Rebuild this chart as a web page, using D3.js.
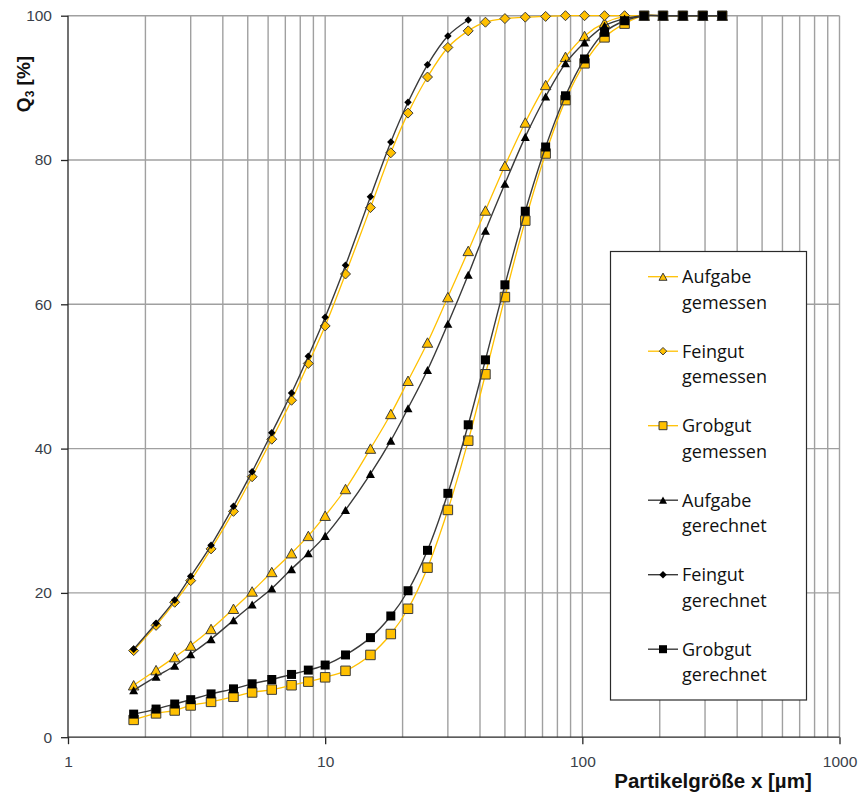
<!DOCTYPE html>
<html>
<head>
<meta charset="utf-8">
<script src="https://cdn.jsdelivr.net/npm/d3@7"></script>
<style>
  html, body { margin: 0; padding: 0; background: #fff; }
  svg { display: block; }
</style>
</head>
<body>
<svg id="chart" width="863" height="793"></svg>
<script>
// ---------- data ----------
const sizes = [1.8, 2.2, 2.6, 3.0, 3.6, 4.4, 5.2, 6.2, 7.4, 8.6, 10, 12, 15, 18, 21, 25, 30, 36, 42, 50, 60, 72, 86, 102, 122, 146, 174, 206, 246, 294, 350];

const aufgabeGemessen = [7.2, 9.3, 11.1, 12.7, 15.0, 17.8, 20.2, 22.9, 25.5, 27.9, 30.7, 34.4, 40.0, 44.8, 49.4, 54.7, 61.0, 67.4, 73.0, 79.2, 85.2, 90.4, 94.3, 97.2, 99.0, 99.9, 100, 100, 100, 100, 100];
const feingutGemessen = [12.0, 15.5, 18.7, 21.7, 26.1, 31.3, 36.1, 41.3, 46.7, 51.8, 57.0, 64.2, 73.4, 81.0, 86.5, 91.5, 95.6, 97.9, 99.1, 99.6, 99.8, 99.9, 100, 100, 100, 100];
const grobgutGemessen = [2.4, 3.3, 3.7, 4.4, 4.9, 5.6, 6.2, 6.6, 7.2, 7.7, 8.3, 9.2, 11.4, 14.3, 17.8, 23.5, 31.5, 41.1, 50.3, 61.0, 71.6, 80.9, 88.3, 93.4, 97.0, 98.9, 100, 100, 100, 100, 100];
const aufgabeGerechnet = [6.5, 8.4, 9.9, 11.5, 13.6, 16.2, 18.4, 20.6, 23.3, 25.5, 27.9, 31.5, 36.5, 41.1, 45.6, 50.9, 57.3, 64.1, 70.2, 76.7, 83.2, 88.8, 93.4, 96.3, 98.6, 99.6, 100, 100, 100, 100, 100];
const feingutGerechnet = [12.2, 15.8, 19.0, 22.3, 26.6, 32.0, 36.8, 42.2, 47.7, 52.8, 58.2, 65.4, 74.9, 82.5, 88.0, 93.2, 97.2, 99.4];
const grobgutGerechnet = [3.2, 3.9, 4.6, 5.2, 6.0, 6.7, 7.4, 8.0, 8.7, 9.3, 10.0, 11.4, 13.8, 16.8, 20.3, 25.9, 33.8, 43.3, 52.3, 62.7, 72.9, 81.8, 88.9, 94.0, 97.7, 99.3, 100, 100, 100, 100, 100];

const seriesNames = ["Aufgabe\ngemessen", "Feingut\ngemessen", "Grobgut\ngemessen", "Aufgabe\ngerechnet", "Feingut\ngerechnet", "Grobgut\ngerechnet"];
const seriesValues = [aufgabeGemessen, feingutGemessen, grobgutGemessen, aufgabeGerechnet, feingutGerechnet, grobgutGerechnet];
const seriesMarkers = ["triangle", "diamond", "square", "triangle", "diamond", "square"];
const seriesKind = ["measured", "measured", "measured", "calc", "calc", "calc"];

const yTicks = [0, 20, 40, 60, 80, 100];
const xTicks = [1, 10, 100, 1000];
const xTitle = "Partikelgröße x [µm]";

// ---------- layout ----------
const W = 863, H = 793;
const plot = { left: 68, right: 839.5, top: 15.7, bottom: 737.2 };

const x = d3.scaleLog().domain([1, 1000]).range([plot.left, plot.right]);
const y = d3.scaleLinear().domain([0, 100]).range([plot.bottom, plot.top]);

const svg = d3.select("#chart");

const styles = {
  measured: { line: "#FFC000", lineWidth: 1.3, fill: "#FFC000", stroke: "#3b3b3b", strokeWidth: 1 },
  calc:     { line: "#3a3a3a", lineWidth: 1.4, fill: "#000000", stroke: "none", strokeWidth: 0 }
};
const markerSize = {
  measured: { triangle: 10.5, diamond: 10, square: 9.5 },
  calc:     { triangle: 9, diamond: 7.5, square: 9 }
};

function markerPath(type, s) {
  const h = s / 2;
  if (type === "square") return `M${-h},${-h}H${h}V${h}H${-h}Z`;
  if (type === "diamond") return `M0,${-h}L${h},0L0,${h}L${-h},0Z`;
  const th = s * 0.9 / 2;
  return `M0,${-th}L${h},${th}L${-h},${th}Z`;
}

// ---------- grid ----------
const gridColor = "#a0a0a0";
const grid = svg.append("g");
grid.selectAll("line.v")
  .data(x.ticks().filter(d => d > 1))
  .join("line")
  .attr("x1", d => x(d)).attr("x2", d => x(d))
  .attr("y1", plot.top).attr("y2", plot.bottom)
  .attr("stroke", gridColor).attr("stroke-width", 1.4);
grid.selectAll("line.h")
  .data(yTicks.filter(d => d > 0))
  .join("line")
  .attr("x1", plot.left).attr("x2", plot.right)
  .attr("y1", d => y(d)).attr("y2", d => y(d))
  .attr("stroke", gridColor).attr("stroke-width", 1.4);

// ---------- axes ----------
const axisFont = "'Liberation Sans', Arial, sans-serif";
const yAxis = svg.append("g")
  .attr("transform", `translate(${plot.left},0)`)
  .call(d3.axisLeft(y).tickValues(yTicks).tickSize(7).tickPadding(9).tickFormat(d3.format("d")));
const xAxis = svg.append("g")
  .attr("transform", `translate(0,${plot.bottom})`)
  .call(d3.axisBottom(x).tickValues(xTicks).tickSize(7).tickPadding(12).tickFormat(d3.format("d")));
[yAxis, xAxis].forEach(a => {
  a.select(".domain").attr("stroke", "#262626").attr("stroke-width", 1.3);
  a.selectAll(".tick line").attr("stroke", "#262626").attr("stroke-width", 1.3);
  a.selectAll(".tick text").attr("fill", "#3a3f4a").style("font-family", axisFont).style("font-size", "15.5px");
});
xAxis.select(".domain").attr("d", `M${plot.left},0H${plot.right}`);
yAxis.select(".domain").attr("d", `M0,${plot.bottom}V${plot.top}`);

// axis titles
svg.append("text")
  .attr("x", 713).attr("y", 788)
  .attr("text-anchor", "middle")
  .style("font-family", axisFont).style("font-weight", "bold").style("font-size", "20.5px")
  .attr("fill", "#111")
  .text(xTitle);

const yt = svg.append("text")
  .attr("transform", `translate(30,84) rotate(-90)`)
  .attr("text-anchor", "middle")
  .style("font-family", axisFont).style("font-weight", "bold").style("font-size", "19px")
  .attr("fill", "#111");
yt.append("tspan").text("Q");
yt.append("tspan").attr("dy", 4).style("font-size", "12px").text("3");
yt.append("tspan").attr("dy", -4).text(" [%]");

// ---------- series ----------
const lineGen = d3.line()
  .x(d => x(d[0])).y(d => y(d[1]))
  .curve(d3.curveCatmullRom.alpha(0.5));

const seriesData = seriesValues.map(vals => vals.map((v, i) => [sizes[i], v]));

seriesData.forEach((pts, si) => {
  const st = styles[seriesKind[si]];
  const g = svg.append("g");
  g.append("path")
    .attr("d", lineGen(pts))
    .attr("fill", "none")
    .attr("stroke", st.line)
    .attr("stroke-width", st.lineWidth);
  const ms = markerSize[seriesKind[si]][seriesMarkers[si]];
  g.selectAll("path.m")
    .data(pts)
    .join("path")
    .attr("class", "m")
    .attr("transform", d => `translate(${x(d[0])},${y(d[1])})`)
    .attr("d", markerPath(seriesMarkers[si], ms))
    .attr("fill", st.fill)
    .attr("stroke", st.stroke)
    .attr("stroke-width", st.strokeWidth);
});

// ---------- legend ----------
const legend = svg.append("g");
legend.append("rect")
  .attr("x", 610.5).attr("y", 251.5).attr("width", 196).attr("height", 448.5)
  .attr("fill", "#fff").attr("stroke", "#2a2a2a").attr("stroke-width", 1.2);

const legendFont = "'Open Sans', Calibri, sans-serif";
seriesNames.forEach((name, i) => {
  const cy = 276.7 + i * 74.5;
  const st = styles[seriesKind[i]];
  const gi = legend.append("g");
  gi.append("line")
    .attr("x1", 648).attr("x2", 678).attr("y1", cy).attr("y2", cy)
    .attr("stroke", st.line).attr("stroke-width", st.lineWidth);
  const ms = seriesMarkers[i] === "diamond" ? 7.5 : 8;
  gi.append("path")
    .attr("transform", `translate(663,${cy})`)
    .attr("d", markerPath(seriesMarkers[i], ms))
    .attr("fill", st.fill)
    .attr("stroke", st.stroke)
    .attr("stroke-width", st.strokeWidth);
  const lines = name.split("\n");
  const t = gi.append("text")
    .attr("x", 682).attr("y", cy)
    .style("font-family", legendFont).style("font-size", "18px")
    .attr("fill", "#111");
  lines.forEach((ln, k) => {
    t.append("tspan").attr("x", 682).attr("y", cy + k * 25.8).attr("dy", "0.36em").text(ln);
  });
});
</script>
</body>
</html>
